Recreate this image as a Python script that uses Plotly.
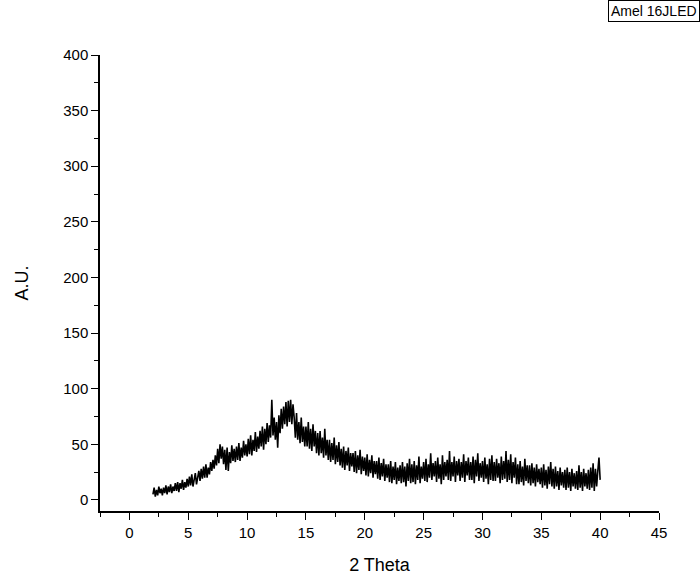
import plotly.graph_objects as go

# 2-theta sampling start/step (degrees) and intensities
x_start = 2.0
x_step = 0.1
intensity = [
    5, 11, 3, 9, 4, 12, 6, 10, 4, 11,
    6, 13, 5, 12, 7, 14, 6, 12, 8, 15,
    8, 16, 7, 15, 10, 18, 9, 16, 11, 19,
    12, 21, 13, 23, 12, 20, 24, 14, 22, 26,
    17, 28, 19, 30, 20, 32, 20, 29, 23, 34,
    26, 36, 28, 40, 31, 46, 33, 50, 37, 48,
    32, 45, 27, 47, 26, 43, 33, 49, 35, 46,
    34, 48, 36, 51, 35, 47, 38, 53, 40, 50,
    39, 55, 41, 58, 40, 54, 44, 61, 43, 57,
    46, 62, 48, 66, 45, 64, 50, 69, 52, 67,
    56, 90, 58, 74, 54, 70, 47, 76, 60, 82,
    64, 84, 68, 88, 66, 89, 70, 90, 68, 86,
    74, 56, 78, 54, 70, 51, 74, 52, 66, 48,
    66, 48, 70, 46, 64, 44, 68, 48, 62, 42,
    60, 40, 62, 42, 56, 38, 64, 40, 54, 36,
    54, 34, 51, 36, 56, 32, 49, 34, 52, 31,
    46, 29, 48, 27, 44, 31, 47, 26, 42, 30,
    42, 25, 44, 24, 40, 27, 45, 23, 39, 26,
    38, 22, 41, 21, 36, 24, 40, 20, 35, 23,
    35, 19, 38, 18, 33, 21, 37, 17, 32, 20,
    32, 16, 35, 15, 30, 18, 34, 14, 29, 17,
    31, 15, 34, 16, 30, 12, 33, 17, 37, 15,
    32, 16, 35, 14, 31, 18, 39, 15, 30, 19,
    34, 17, 37, 16, 32, 20, 42, 18, 33, 21,
    35, 16, 38, 19, 32, 14, 40, 18, 34, 21,
    36, 18, 44, 17, 34, 21, 39, 16, 35, 22,
    37, 17, 34, 20, 41, 16, 35, 22, 38, 18,
    34, 18, 39, 15, 36, 21, 42, 17, 33, 20,
    35, 16, 38, 19, 32, 14, 37, 18, 40, 17,
    34, 17, 37, 20, 33, 15, 39, 18, 35, 19,
    44, 16, 36, 18, 41, 15, 34, 20, 38, 14,
    32, 14, 35, 16, 30, 13, 37, 17, 31, 15,
    31, 13, 33, 15, 29, 12, 32, 16, 28, 14,
    29, 11, 32, 13, 27, 10, 30, 14, 34, 12,
    28, 10, 30, 12, 26, 9, 29, 13, 25, 11,
    27, 9, 29, 11, 25, 8, 28, 12, 24, 10,
    26, 9, 31, 11, 25, 8, 28, 12, 24, 10,
    27, 9, 29, 11, 33, 8, 28, 12, 26, 38,
    18,
]

x_ticks = [0, 5, 10, 15, 20, 25, 30, 35, 40, 45]
y_ticks = [0, 50, 100, 150, 200, 250, 300, 350, 400]
legend_label = "Amel 16JLED"

fig = go.Figure()
fig.add_trace(go.Scatter(
    x0=x_start, dx=x_step, y=intensity,
    mode="lines", line=dict(color="black", width=1.6),
    name=legend_label, showlegend=False,
))

font = dict(family="Liberation Sans, Arial, sans-serif", color="black")

fig.update_layout(
    width=700, height=581,
    margin=dict(l=100, r=41, t=55, b=70),
    paper_bgcolor="white", plot_bgcolor="white",
    font=dict(**font, size=15),
    xaxis=dict(
        range=[-2.5, 45], tickvals=x_ticks, ticks="outside", ticklen=7,
        tickwidth=1.3, tickcolor="black", automargin=False,
        minor=dict(dtick=2.5, tick0=0, ticks="outside", ticklen=4, tickcolor="black", tickwidth=1.3),
        showline=True, linecolor="black", linewidth=1.5, showgrid=False, zeroline=False,
        title=dict(text="2 Theta", font=dict(**font, size=18), standoff=19),
        tickfont=dict(**font, size=15),
    ),
    yaxis=dict(
        range=[-10, 400], tickvals=y_ticks, ticks="outside", ticklen=7,
        tickwidth=1.3, tickcolor="black", automargin=False,
        minor=dict(dtick=25, tick0=0, ticks="outside", ticklen=4, tickcolor="black", tickwidth=1.3),
        showline=True, linecolor="black", linewidth=1.5, showgrid=False, zeroline=False,
        title=dict(text="A.U.", font=dict(**font, size=18), standoff=30),
        tickfont=dict(**font, size=15),
    ),
    annotations=[dict(
        text=legend_label, xref="paper", yref="paper", x=1.073, y=1.121,
        xanchor="right", yanchor="top", showarrow=False,
        font=dict(**font, size=14), bordercolor="black", borderwidth=1,
        borderpad=2, bgcolor="white",
    )],
)

fig.write_html(
    "out.html",
    config={"displayModeBar": False},
    post_script="document.body.style.margin='0px';",
)
